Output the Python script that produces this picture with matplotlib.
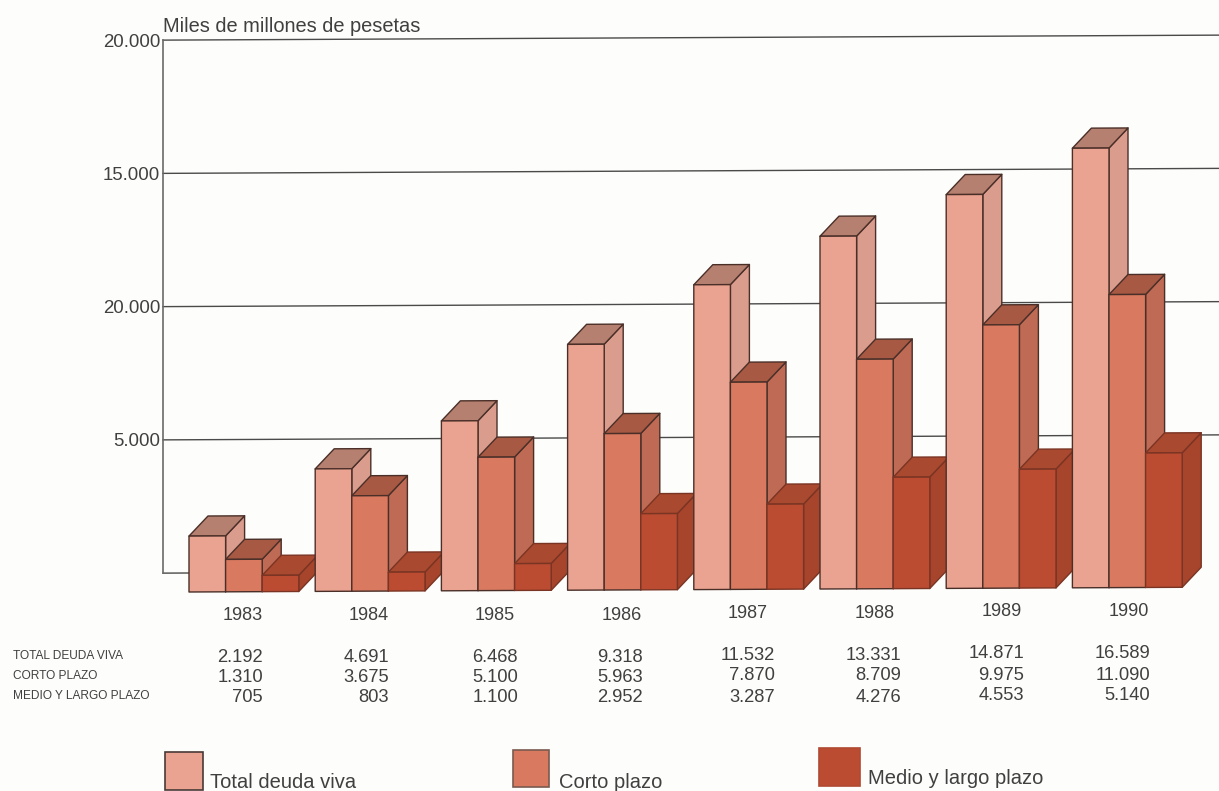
import matplotlib
matplotlib.use('Agg')
import matplotlib.pyplot as plt
from matplotlib.transforms import Affine2D

plt.rcParams['font.family'] = ['Liberation Sans', 'DejaVu Sans']

years = ['1983', '1984', '1985', '1986', '1987', '1988', '1989', '1990']
total = [2192, 4691, 6468, 9318, 11532, 13331, 14871, 16589]
corto = [1310, 3675, 5100, 5963, 7870, 8709, 9975, 11090]
medio = [705, 803, 1100, 2952, 3287, 4276, 4553, 5140]
grid_values = [0, 5000, 10000, 15000, 20000]
grid_labels = ['', '5.000', '20.000', '15.000', '20.000']
row_names = ['TOTAL DEUDA VIVA', 'CORTO PLAZO', 'MEDIO Y LARGO PLAZO']
legend_names = ['Total deuda viva', 'Corto plazo', 'Medio y largo plazo']

W, H = 1219, 791
TXT = '#404040'
EDGE = '#4a2f28'

# front, side, top
COLORS = [('#eaa391', '#d99c8d', '#b5806f'),
          ('#d97a60', '#bf6a54', '#a85943'),
          ('#bb4c32', '#a6452c', '#a9492f')]
EDGES = [EDGE, EDGE, '#7a3423']

PX_X = 126.2     # px per year
PX_Y = 0.02665   # px per unit
BAR_W = 36.6 / PX_X
DEPTH_X = 19 / PX_X
DEPTH_Y = 20 / PX_Y
BASE = -19 / PX_Y
TRIM = 2.5 / PX_Y  # front face sits a little under the grid scale
SHEAR = 22.4       # the page is scanned slightly rotated

fig = plt.figure(figsize=(W / 100, H / 100), dpi=100, facecolor='#fdfdfb')
ax = fig.add_axes([0, 0, 1, 1])
ax.set_xlim(-189 / PX_X, (W - 189) / PX_X)
ax.set_ylim(-(H - 573) / PX_Y, 573 / PX_Y)
ax.axis('off')
tr = Affine2D.from_values(1, SHEAR, 0, 1, 0, 0) + ax.transData

left = -26 / PX_X
right = (W - 189) / PX_X

# rejilla
for v in grid_values:
    x1 = right if v > 0 else 0.1
    ax.plot([left, x1], [v, v], color='#4a4a4a', lw=1.0, transform=tr, zorder=1)
ax.plot([left, left], [0, 20000], color='#6a6a6a', lw=1.2, transform=tr, zorder=1)


def px_text(x, y, s, **kw):
    kw.setdefault('color', TXT)
    fig.text(x / W, 1 - y / H, s, **kw)


def bar3d(x, v, cols, ec, z):
    y0 = BASE
    y1 = BASE + v - TRIM
    x1 = x + BAR_W
    kw = dict(edgecolor=ec, linewidth=1.0, joinstyle='round', transform=tr, zorder=z)
    ax.fill([x1, x1 + DEPTH_X, x1 + DEPTH_X, x1],
            [y0, y0 + DEPTH_Y, y1 + DEPTH_Y, y1], facecolor=cols[1], **kw)
    ax.fill([x, x1, x1 + DEPTH_X, x + DEPTH_X],
            [y1, y1, y1 + DEPTH_Y, y1 + DEPTH_Y], facecolor=cols[2], **kw)
    ax.fill([x, x1, x1, x], [y0, y0, y1, y1], facecolor=cols[0], **kw)


z = 2
for i in range(len(years)):
    for j, serie in enumerate([total, corto, medio]):
        bar3d(i + j * BAR_W, serie[i], COLORS[j], EDGES[j], z)
        z += 1

# etiquetas del eje
for v, lab in zip(grid_values, grid_labels):
    if lab:
        ax.text(left - 3 / PX_X, v - 2 / PX_Y, lab, ha='right', va='center', fontsize=13.4,
                color=TXT, transform=tr)
px_text(163, 32, 'Miles de millones de pesetas', fontsize=14.4)

year_x = [243, 369, 495, 622, 748, 875, 1002, 1129]
year_y = [615, 615, 615, 615, 614, 614, 612, 612]
for x, y, s in zip(year_x, year_y, years):
    px_text(x, y, s, ha='center', va='center', fontsize=13)

# tabla
col_x = [263, 389, 518, 643, 775, 901, 1024, 1150]
row_y = [[657, 677, 698], [657, 677, 698], [657, 677, 698], [657, 677, 698],
         [656, 676, 697], [656, 676, 697], [654, 675, 695], [654, 675, 695]]
for i in range(len(years)):
    for k, serie in enumerate([total, corto, medio]):
        s = f'{serie[i]:,}'.replace(',', '.')
        px_text(col_x[i], row_y[i][k], s, ha='right', va='center', fontsize=13.2)
for y, s in zip([656, 676, 696], row_names):
    px_text(13, y, s, ha='left', va='center', fontsize=8.6)

# leyenda
boxes = [(165, 752, 38, 38), (513, 750, 36, 37), (819, 748, 41, 38)]
label_pos = [(210, 783), (559, 782), (868, 779)]
box_edge = ['#4a3a36', '#7a5a50', '#b04a30']
for j in range(3):
    bx, by, bw, bh = boxes[j]
    fig.add_artist(plt.Rectangle((bx / W, 1 - (by + bh) / H), bw / W, bh / H,
                                 facecolor=COLORS[j][0], edgecolor=box_edge[j],
                                 linewidth=1.2, transform=fig.transFigure))
    px_text(label_pos[j][0], label_pos[j][1], legend_names[j], ha='left', va='center',
            fontsize=14.5)

fig.savefig('out.png', dpi=100, facecolor=fig.get_facecolor())
